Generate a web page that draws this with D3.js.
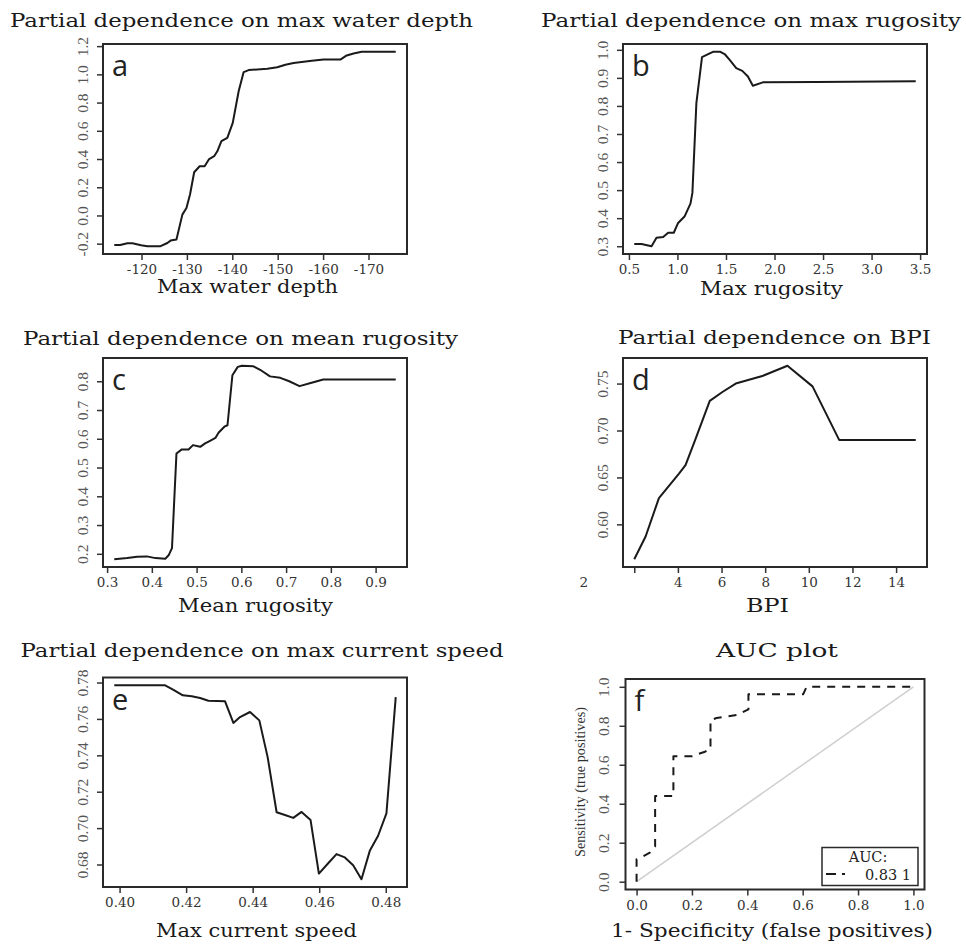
<!DOCTYPE html>
<html>
<head>
<meta charset="utf-8">
<script src="https://cdn.jsdelivr.net/npm/d3@7"></script>
<style>
  body { margin: 0; background: #fff; }
</style>
</head>
<body>
<div id="chart"></div>
<script>
// values
const depthX = [-114, -115.3, -116.9, -118.0, -119.9, -121.3, -124.2, -125.7, -126.4, -127.7,
    -129.0, -129.9, -130.7, -131.6, -132.8, -133.9, -134.9, -136.0, -136.7, -137.6,
    -138.9, -140.1, -141.4, -142.5, -143.6, -147.7, -149.9, -151.7, -153.5, -157.5,
    -160.1, -163.8, -165.2, -166.7, -168.5, -176.0];
const depthY = [-0.21, -0.21, -0.197, -0.197, -0.211, -0.218, -0.218, -0.195, -0.178, -0.17,
    0.006, 0.053, 0.15, 0.306, 0.349, 0.349, 0.40, 0.42, 0.455, 0.526,
    0.55, 0.656, 0.88, 1.016, 1.03, 1.04, 1.05, 1.068, 1.08, 1.096,
    1.105, 1.105, 1.134, 1.148, 1.16, 1.16];

const rugMaxX = [0.555, 0.63, 0.733, 0.784, 0.853, 0.904, 0.962, 1.007, 1.075, 1.134, 1.154, 1.195,
    1.253, 1.30, 1.366, 1.442, 1.486, 1.538, 1.606, 1.668, 1.726, 1.777, 1.88, 2.428, 3.455];
const rugMaxY = [0.308, 0.308, 0.30, 0.33, 0.333, 0.348, 0.348, 0.383, 0.407, 0.452, 0.49, 0.81,
    0.974, 0.982, 0.993, 0.993, 0.985, 0.964, 0.935, 0.925, 0.905, 0.872, 0.884, 0.885, 0.888];

const rugMeanX = [0.316, 0.345, 0.367, 0.389, 0.408, 0.43, 0.438, 0.445, 0.455, 0.467,
    0.482, 0.492, 0.508, 0.519, 0.53, 0.542, 0.549, 0.562, 0.569, 0.58,
    0.592, 0.601, 0.627, 0.642, 0.664, 0.687, 0.707, 0.73, 0.757, 0.783, 0.88, 0.945];
const rugMeanY = [0.181, 0.185, 0.19, 0.191, 0.185, 0.183, 0.196, 0.22, 0.549, 0.563,
    0.563, 0.578, 0.572, 0.584, 0.593, 0.603, 0.621, 0.642, 0.647, 0.821,
    0.85, 0.854, 0.852, 0.84, 0.817, 0.812, 0.80, 0.783, 0.795, 0.806, 0.806, 0.806];

const bpiX = [2.0, 2.52, 3.13, 3.59, 4.05, 4.35, 4.81, 5.46, 6.04, 6.65, 7.87, 9.02, 10.17, 11.39, 12.46, 14.9];
const bpiY = [0.5628, 0.587, 0.628, 0.641, 0.654, 0.663, 0.691, 0.7316, 0.741, 0.75, 0.758, 0.769, 0.747, 0.69, 0.690, 0.690];

const speedX = [0.3984, 0.4137, 0.4162, 0.419, 0.4217, 0.4242, 0.4267, 0.4317, 0.4342, 0.4362,
    0.4392, 0.442, 0.4445, 0.4472, 0.4497, 0.4522, 0.4547, 0.4574, 0.4599, 0.4627,
    0.4652, 0.4677, 0.4702, 0.4727, 0.4752, 0.4777, 0.4802, 0.483];
const speedY = [0.7785, 0.7785, 0.776, 0.773, 0.7725, 0.7715, 0.770, 0.7697, 0.7578, 0.761,
    0.7638, 0.7592, 0.739, 0.7087, 0.7072, 0.7056, 0.7089, 0.7044, 0.675, 0.6807,
    0.6857, 0.6839, 0.6796, 0.6719, 0.6875, 0.6958, 0.7081, 0.772];

const fpr = [0, 0, 0.024, 0.048, 0.067, 0.067, 0.133, 0.133, 0.2, 0.247, 0.267, 0.267, 0.289, 0.361, 0.404, 0.404, 0.602, 0.614, 1.0];
const tpr = [0, 0.115, 0.13, 0.149, 0.18, 0.44, 0.44, 0.644, 0.644, 0.667, 0.68, 0.829, 0.84, 0.855, 0.884, 0.962, 0.962, 1.0, 1.0];

// tick values
const depthTicks = [-120, -130, -140, -150, -160, -170];
const depthYTicks = [-0.2, 0.0, 0.2, 0.4, 0.6, 0.8, 1.0, 1.2];
const rugMaxTicks = [0.5, 1.0, 1.5, 2.0, 2.5, 3.0, 3.5];
const rugMaxYTicks = [0.3, 0.4, 0.5, 0.6, 0.7, 0.8, 0.9, 1.0];
const rugMeanTicks = [0.3, 0.4, 0.5, 0.6, 0.7, 0.8, 0.9];
const rugMeanYTicks = [0.2, 0.3, 0.4, 0.5, 0.6, 0.7, 0.8];
const bpiTicks = [2, 4, 6, 8, 10, 12, 14];
const bpiYTicks = [0.60, 0.65, 0.70, 0.75];
const speedTicks = [0.40, 0.42, 0.44, 0.46, 0.48];
const speedYTicks = [0.68, 0.70, 0.72, 0.74, 0.76, 0.78];
const rocTicks = [0.0, 0.2, 0.4, 0.6, 0.8, 1.0];

const aucLabel = "0.83 1";

const width = 966, height = 944;

const svg = d3.select("#chart").append("svg")
    .attr("width", width)
    .attr("height", height)
    .attr("viewBox", [0, 0, width, height]);

svg.append("rect").attr("width", width).attr("height", height).attr("fill", "#fff");

const fix = n => d => d.toFixed(n);

// R-style 4% padding around the data range
function padded(values) {
    const [lo, hi] = d3.extent(values);
    const p = (hi - lo) * 0.04;
    return [lo - p, hi + p];
}

function label(x, y, str, len, size, family, fill) {
    return svg.append("text")
        .attr("x", x)
        .attr("y", y)
        .attr("text-anchor", "middle")
        .attr("font-family", family || "DejaVu Serif")
        .attr("font-size", size)
        .attr("fill", fill || "#1a1a1a")
        .attr("textLength", len)
        .attr("lengthAdjust", "spacingAndGlyphs")
        .text(str);
}

const panels = [
    { letter: "a", xs: depthX, ys: depthY, reverse: true, xTicks: depthTicks, yTicks: depthYTicks,
      xFormat: d => String(d), yFormat: fix(1), box: [103, 407, 44, 254],
      title: ["Partial dependence on max water depth", 241.5, 27, 463],
      xlab: ["Max water depth", 247.5, 293, 181] },
    { letter: "b", xs: rugMaxX, ys: rugMaxY, xTicks: rugMaxTicks, yTicks: rugMaxYTicks,
      xFormat: fix(1), yFormat: fix(1), box: [623, 927, 44, 254],
      title: ["Partial dependence on max rugosity", 751, 27, 420],
      xlab: ["Max rugosity", 771.5, 295, 143] },
    { letter: "c", xs: rugMeanX, ys: rugMeanY, xTicks: rugMeanTicks, yTicks: rugMeanYTicks,
      xFormat: fix(1), yFormat: fix(1), box: [103, 407, 358, 567],
      title: ["Partial dependence on mean rugosity", 240.5, 345, 435],
      xlab: ["Mean rugosity", 255.5, 612, 155] },
    { letter: "d", xs: bpiX, ys: bpiY, xTicks: bpiTicks, yTicks: bpiYTicks,
      xFormat: d => String(d), yFormat: fix(2), box: [623, 927, 358, 567], shiftFirst: -51,
      title: ["Partial dependence on BPI", 774.5, 344, 313],
      xlab: ["BPI", 767.5, 612, 43] },
    { letter: "e", xs: speedX, ys: speedY, xTicks: speedTicks, yTicks: speedYTicks,
      xFormat: fix(2), yFormat: fix(2), box: [103, 407, 677.5, 887],
      title: ["Partial dependence on max current speed", 262, 657, 483],
      xlab: ["Max current speed", 256.5, 937, 201] },
    { letter: "f", xs: fpr, ys: tpr, xTicks: rocTicks, yTicks: rocTicks, roc: true,
      xDomain: padded([0, 1]), yDomain: padded([0, 1]),
      xFormat: fix(1), yFormat: fix(1), box: [625.5, 924.5, 679, 889.5], yLabelOff: 17,
      title: ["AUC plot", 777, 657, 122],
      xlab: ["1- Specificity (false positives)", 772, 937, 322] }
];

panels.forEach(p => {
    const [x0, x1, y0, y1] = p.box;
    const xd = p.xDomain || padded(p.xs);
    const x = d3.scaleLinear().domain(p.reverse ? [xd[1], xd[0]] : xd).range([x0, x1]);
    const y = d3.scaleLinear().domain(p.yDomain || padded(p.ys)).range([y1, y0]);
    const g = svg.append("g");

    const xAxis = g.append("g")
        .attr("transform", `translate(0,${y1})`)
        .call(d3.axisBottom(x).tickValues(p.xTicks).tickFormat(p.xFormat).tickSize(6).tickSizeOuter(0))
        .call(g => g.select(".domain").remove())
        .call(g => g.selectAll(".tick line").attr("stroke", "#333").attr("stroke-width", 1.5))
        .call(g => g.selectAll(".tick text")
            .attr("y", 20).attr("dy", 0)
            .attr("font-family", "DejaVu Serif")
            .attr("font-size", 13.5)
            .attr("fill", "#333"));

    // the "2" on the BPI axis sits well left of its tick in the original
    if (p.shiftFirst) xAxis.select(".tick text").attr("x", p.shiftFirst);

    g.append("g")
        .attr("transform", `translate(${x0},0)`)
        .call(d3.axisLeft(y).tickValues(p.yTicks).tickFormat(p.yFormat).tickSize(6))
        .call(g => g.select(".domain").remove())
        .call(g => g.selectAll(".tick line").attr("stroke", "#333").attr("stroke-width", 1.5))
        .call(g => g.selectAll(".tick text")
            .attr("transform", "rotate(-90)")
            .attr("x", 0).attr("y", -(p.yLabelOff || 15)).attr("dy", 0)
            .attr("text-anchor", "middle")
            .attr("font-family", "Liberation Serif")
            .attr("font-size", 15.5)
            .attr("fill", "#555"));

    if (p.roc) {
        g.append("line")
            .attr("x1", x(0)).attr("y1", y(0))
            .attr("x2", x(1)).attr("y2", y(1))
            .attr("stroke", "#cfcfcf")
            .attr("stroke-width", 1.5);
    }

    g.append("path")
        .datum(d3.zip(p.xs, p.ys))
        .attr("fill", "none")
        .attr("stroke", "#1a1a1a")
        .attr("stroke-width", 2)
        .attr("stroke-linejoin", "round")
        .attr("stroke-dasharray", p.roc ? "8,7" : null)
        .attr("d", d3.line().x(d => x(d[0])).y(d => y(d[1])));

    g.append("rect")
        .attr("x", x0).attr("y", y0)
        .attr("width", x1 - x0).attr("height", y1 - y0)
        .attr("fill", "none")
        .attr("stroke", "#2a2a2a")
        .attr("stroke-width", 2);

    g.append("text")
        .attr("x", x0 + 9)
        .attr("y", y0 + 32)
        .attr("font-family", "Open Sans")
        .attr("font-size", 29)
        .attr("fill", "#222")
        .text(p.letter);

    label(p.title[1], p.title[2], p.title[0], p.title[3], 18.5);
    label(p.xlab[1], p.xlab[2], p.xlab[0], p.xlab[3], 18.5);

    if (p.roc) {
        svg.append("text")
            .attr("transform", "translate(585,782) rotate(-90)")
            .attr("text-anchor", "middle")
            .attr("font-family", "Liberation Serif")
            .attr("font-size", 14)
            .attr("fill", "#333")
            .attr("textLength", 150)
            .attr("lengthAdjust", "spacingAndGlyphs")
            .text("Sensitivity (true positives)");

        const leg = svg.append("g");
        leg.append("rect")
            .attr("x", 822).attr("y", 847.5)
            .attr("width", 96).attr("height", 38)
            .attr("fill", "#fff")
            .attr("stroke", "#2a2a2a")
            .attr("stroke-width", 1.5);
        leg.append("text")
            .attr("x", 868).attr("y", 861.5)
            .attr("text-anchor", "middle")
            .attr("font-family", "DejaVu Serif")
            .attr("font-size", 14.5)
            .attr("fill", "#222")
            .text("AUC:");
        leg.append("line")
            .attr("x1", 826).attr("x2", 845)
            .attr("y1", 874).attr("y2", 874)
            .attr("stroke", "#1a1a1a")
            .attr("stroke-width", 2)
            .attr("stroke-dasharray", "10,6");
        leg.append("text")
            .attr("x", 911).attr("y", 879.5)
            .attr("text-anchor", "end")
            .attr("font-family", "DejaVu Serif")
            .attr("font-size", 14.5)
            .attr("fill", "#222")
            .text(aucLabel);
    }
});
</script>
</body>
</html>
